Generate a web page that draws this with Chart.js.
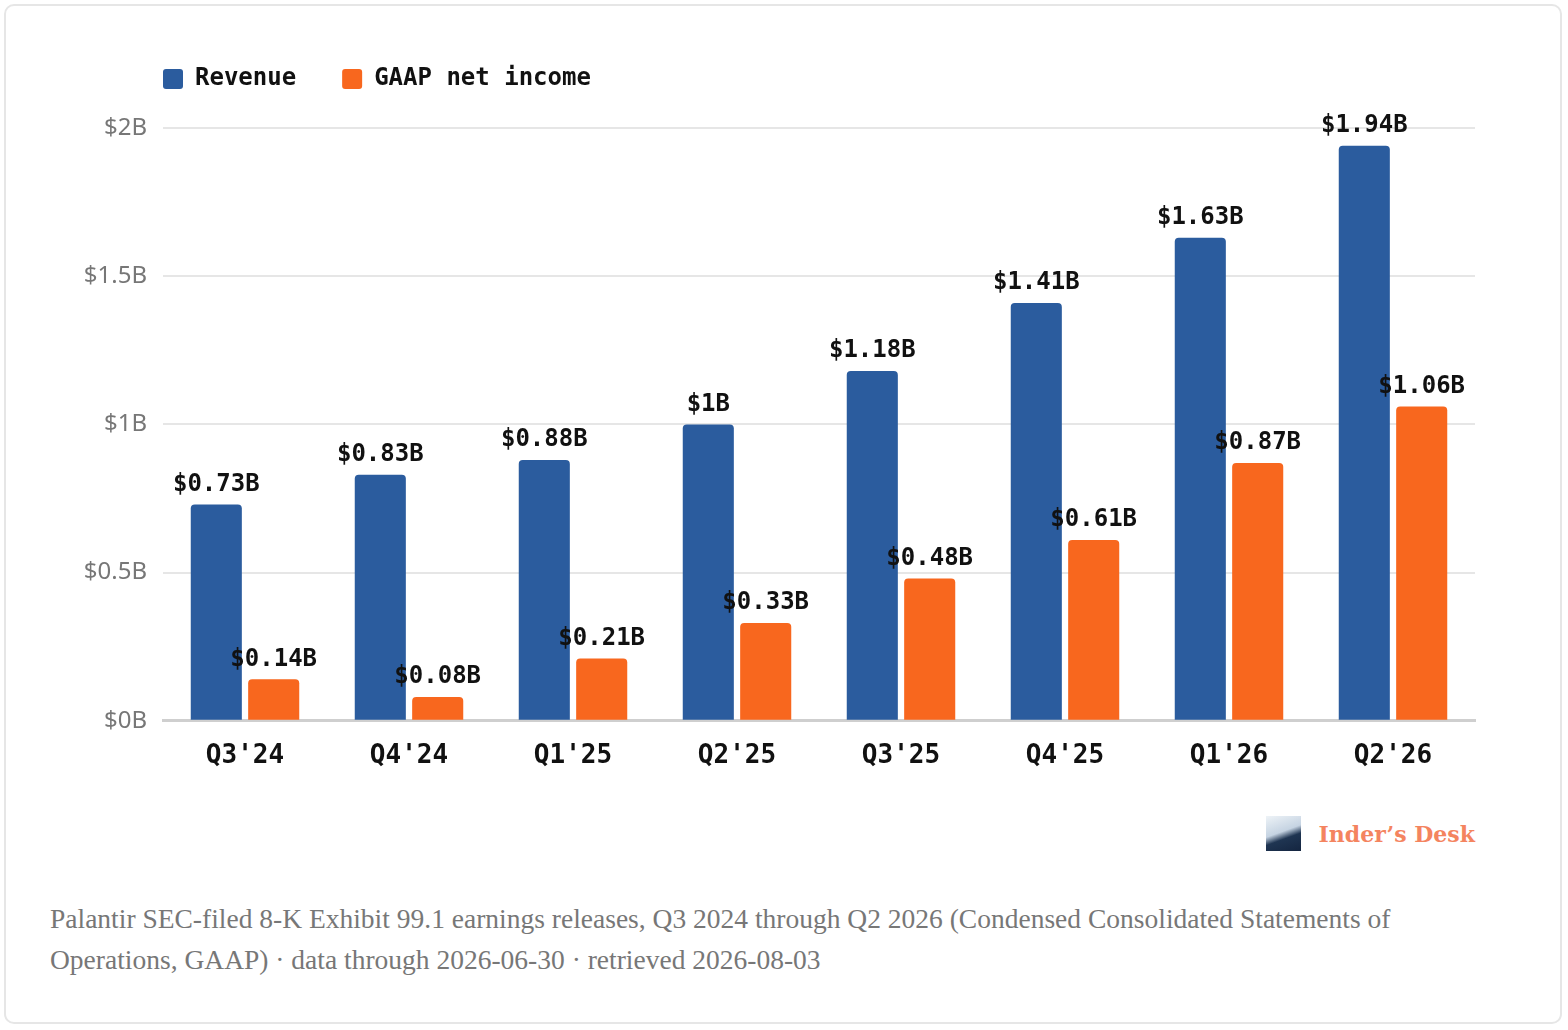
<!DOCTYPE html>
<html>
<head>
<meta charset="utf-8">
<script src="https://cdn.jsdelivr.net/npm/chart.js@4"></script>
<style>
  body { margin:0; background:#fff; }
  .card { position:absolute; left:4px; top:4px; width:1558px; height:1020px; border:2px solid #e6e6e6; border-radius:10px; box-sizing:border-box; }
  #wrap { position:absolute; left:0; top:27px; width:1500px; height:757px; }
  .brand { position:absolute; right:93px; top:816px; display:flex; align-items:center; }
  .logo { width:35px; height:35px; background:linear-gradient(160deg,#eef3f7 0%,#c5d3e2 45%,#1f3552 62%,#142540 100%); margin-right:18px; }
  .brand span { font-family:"DejaVu Serif",serif; font-weight:bold; font-size:22px; color:#f4845f; }
  .note { position:absolute; left:50px; top:898px; width:1420px; font-family:"Liberation Serif","DejaVu Serif",serif; font-size:27.5px; line-height:41px; color:#777; }
</style>
</head>
<body>
<div class="card"></div>
<div id="wrap"><canvas id="c"></canvas></div>
<div class="brand"><div class="logo"></div><span>Inder’s Desk</span></div>
<div class="note">Palantir SEC-filed 8-K Exhibit 99.1 earnings releases, Q3 2024 through Q2 2026 (Condensed Consolidated Statements of Operations, GAAP) · data through 2026-06-30 · retrieved 2026-08-03</div>
<script>
// data
const quarters = ["Q3'24","Q4'24","Q1'25","Q2'25","Q3'25","Q4'25","Q1'26","Q2'26"];
const revenue = [0.73, 0.83, 0.88, 1.00, 1.18, 1.41, 1.63, 1.94];
const netIncome = [0.14, 0.08, 0.21, 0.33, 0.48, 0.61, 0.87, 1.06];
const yTicks = [0, 0.5, 1, 1.5, 2];

const mono = "'DejaVu Sans Mono', monospace";
const legendPad = 46;

function fmt(v){ return "$" + (Math.round(v*100)/100) + "B"; }

// labels above bars
const barLabels = {
    id: "barLabels",
    afterDatasetsDraw(chart){
        const ctx = chart.ctx;
        ctx.save();
        ctx.font = "bold 24px " + mono;
        ctx.fillStyle = "#111";
        ctx.textAlign = "center";
        ctx.textBaseline = "bottom";
        chart.data.datasets.forEach((ds, i) => {
            chart.getDatasetMeta(i).data.forEach((bar, j) => {
                ctx.fillText(fmt(ds.data[j]), bar.x, bar.y - 8);
            });
        });
        ctx.restore();
    }
};

// more room under the legend, and line it up with the plot's left edge
const legendShift = {
    id: "legendShift",
    beforeLayout(chart){
        const lg = chart.legend;
        if(lg && !lg._tall){
            const fit = lg.fit.bind(lg);
            lg.fit = function(){ fit(); this.height += 27; };
            lg._tall = true;
        }
    },
    afterLayout(chart){
        chart.legend.left = chart.chartArea.left - legendPad;
    }
};

new Chart(document.getElementById("c"), {
    type: "bar",
    data: {
        labels: quarters,
        datasets: [
            { label: "Revenue", data: revenue, backgroundColor: "#2b5c9e", borderRadius: {topLeft:4, topRight:4}, borderSkipped: "bottom" },
            { label: "GAAP net income", data: netIncome, backgroundColor: "#f8671e", borderRadius: {topLeft:4, topRight:4}, borderSkipped: "bottom" }
        ]
    },
    options: {
        responsive: true,
        maintainAspectRatio: false,
        animation: false,
        layout: { padding: { left: 0, right: 25, top: -6 } },
        datasets: { bar: { categoryPercentage: 0.7, barPercentage: 0.89 } },
        plugins: {
            legend: {
                align: "start",
                labels: {
                    font: { family: mono, weight: "bold", size: 24 },
                    color: "#111",
                    boxWidth: 20, boxHeight: 20, useBorderRadius: true, borderRadius: 3,
                    padding: legendPad
                }
            },
            tooltip: { enabled: false }
        },
        scales: {
            y: {
                min: 0, max: 2,
                afterFit(axis){ axis.width = 163; },
                afterBuildTicks(axis){ axis.ticks = yTicks.map(v => ({ value: v })); },
                ticks: { callback: v => "$" + v + "B", color: "#777", font: { family: "'Noto Sans', sans-serif", size: 24 }, padding: 16 },
                grid: { color: "#e6e6e6", lineWidth: 2, drawTicks: false },
                border: { display: false }
            },
            x: {
                ticks: { color: "#111", font: { family: mono, weight: "bold", size: 26 }, padding: 12 },
                grid: { display: false },
                border: { color: "#cfcfcf", width: 3 }
            }
        }
    },
    plugins: [barLabels, legendShift]
});
</script>
</body>
</html>
